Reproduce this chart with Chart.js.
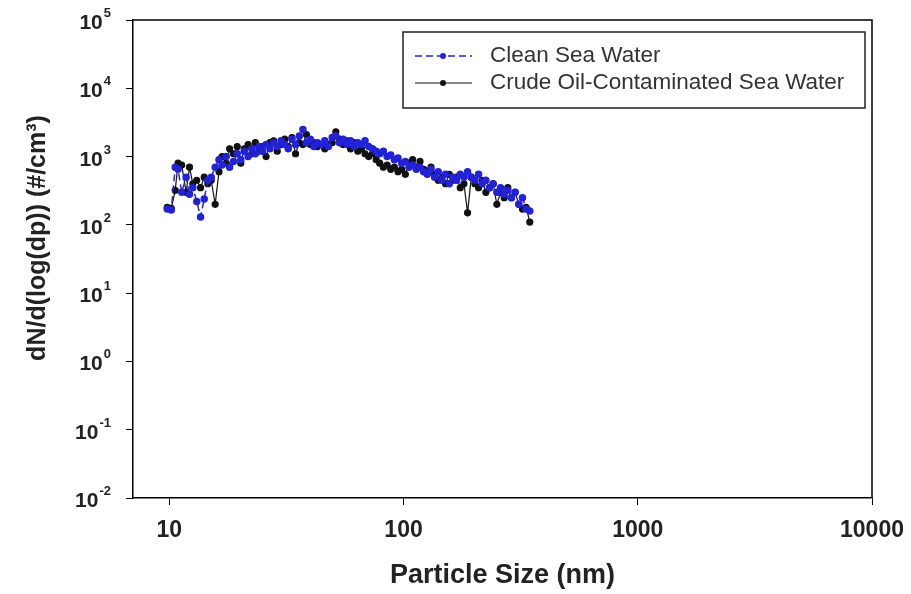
<!DOCTYPE html>
<html>
<head>
<meta charset="utf-8">
<script src="https://cdn.jsdelivr.net/npm/chart.js@4/dist/chart.umd.min.js"></script>
<style>
  html, body { margin: 0; padding: 0; background: #fff; }
  #wrap { width: 911px; height: 594px; }
</style>
</head>
<body>
<div id="wrap"><canvas id="psd-chart" width="911" height="594"></canvas></div>
<script>
// particle size channels (nm)
const sizes = [9.8, 10.2, 10.6, 10.9, 11.3, 11.8, 12.2, 12.6, 13.1, 13.6, 14.1, 14.6, 15.1, 15.7, 16.3, 16.8,
  17.5, 18.1, 18.8, 19.5, 20.2, 20.9, 21.7, 22.5, 23.3, 24.1, 25.0, 25.9, 26.9, 27.9, 28.9, 30.0, 31.1, 32.2,
  33.4, 34.6, 35.9, 37.2, 38.5, 40.0, 41.4, 42.9, 44.5, 46.1, 47.8, 49.6, 51.4, 53.3, 55.2, 57.3, 59.4, 61.5,
  63.8, 66.1, 68.5, 71.0, 73.7, 76.4, 79.1, 82.0, 85.1, 88.2, 91.4, 94.7, 98.2, 101.8, 105.5, 109.4, 113.4,
  117.6, 121.9, 126.3, 131.0, 135.8, 140.7, 145.9, 151.2, 156.8, 162.5, 168.5, 174.7, 181.1, 187.7, 194.6,
  201.7, 209.1, 216.7, 224.7, 232.9, 241.4, 250.3, 259.5, 269.0, 278.8, 289.0, 299.6, 310.6, 322.0, 333.8, 346.0]

// dN/dlog(dp), #/cm3
const clean_sea_water = [170, 165, 700, 650, 300, 500, 280, 350, 220, 130, 240, 450, 500, 700, 900, 750,
  1000, 700, 850, 1100, 900, 1200, 1000, 1300, 1100, 1400, 1200, 1500, 1300, 1600, 1400, 1700, 1500, 1300,
  1800, 1500, 2000, 2500, 1600, 1800, 1400, 1600, 1500, 1700, 1400, 1900, 2000, 1600, 1800, 1500, 1700, 1400,
  1600, 1500, 1700, 1400, 1300, 1200, 1100, 1200, 1000, 1050, 900, 950, 800, 850, 700, 750, 650,
  700, 600, 550, 650, 500, 600, 450, 550, 400, 500, 450, 550, 500, 600, 500,
  450, 550, 400, 450, 350, 400, 300, 350, 280, 320, 250, 300, 200, 250, 170, 160]

const oil_sea_water = [180, 175, 320, 800, 750, 300, 700, 400, 450, 350, 500, 400, 450, 200, 600, 1000,
  800, 1300, 1100, 1400, 800, 1300, 1500, 1100, 1600, 1200, 1400, 1000, 1600, 1700, 1200, 1500, 1800, 1400,
  1900, 1100, 1600, 1500, 2100, 1500, 1600, 1400, 1500, 1300, 1500, 1600, 2300, 1800, 1500, 1700, 1300, 1600,
  1200, 1300, 1100, 1000, 1100, 900, 800, 700, 750, 650, 700, 600, 650, 550, 800, 900, 700,
  850, 650, 600, 700, 550, 450, 500, 400, 550, 450, 500, 350, 400, 150, 500,
  400, 350, 450, 300, 350, 400, 200, 300, 250, 350, 250, 300, 200, 170, 180, 110]

const x_ticks = [10, 100, 1000, 10000]
const y_exponents = [-2, -1, 0, 1, 2, 3, 4, 5]
const y_title = 'dN/d(log(dp)) (#/cm\u00b3)'

const font_family = '"Liberation Sans", Arial, sans-serif'

const frame_and_labels = {
  id: 'frame_and_labels',
  afterDraw(chart) {
    const {ctx, chartArea: area, scales: {y}} = chart
    ctx.save()
    // top and right frame
    ctx.strokeStyle = '#000'
    ctx.lineWidth = 1.5
    ctx.beginPath()
    ctx.moveTo(area.left, area.top)
    ctx.lineTo(area.right, area.top)
    ctx.lineTo(area.right, area.bottom)
    ctx.stroke()

    // y tick labels with superscript exponents
    ctx.fillStyle = '#222'
    ctx.textBaseline = 'alphabetic'
    y_exponents.forEach(exp => {
      const py = y.getPixelForValue(Math.pow(10, exp))
      const sup = String(exp)
      ctx.font = `bold 13px ${font_family}`
      const sup_w = ctx.measureText(sup).width
      ctx.textAlign = 'right'
      ctx.fillText(sup, 111, py - 3)
      ctx.font = `bold 21px ${font_family}`
      ctx.fillText('10', 111 - sup_w - 1, py + 9)
    })

    // y axis title
    ctx.save()
    ctx.translate(38, 238)
    ctx.rotate(-Math.PI / 2)
    ctx.font = `bold 25px ${font_family}`
    ctx.textAlign = 'center'
    ctx.textBaseline = 'middle'
    ctx.fillText(y_title, 0, 0)
    ctx.restore()

    // legend box
    const box = {left: 403, top: 32, right: 865, bottom: 108}
    ctx.strokeStyle = '#222'
    ctx.lineWidth = 1.5
    ctx.strokeRect(box.left, box.top, box.right - box.left, box.bottom - box.top)
    const rows = [56, 83]
    chart.data.datasets.forEach((ds, i) => {
      const ly = rows[i]
      ctx.strokeStyle = ds.borderColor
      ctx.lineWidth = ds.borderWidth
      ctx.setLineDash(ds.borderDash || [])
      ctx.beginPath()
      ctx.moveTo(415, ly)
      ctx.lineTo(472, ly)
      ctx.stroke()
      ctx.setLineDash([])
      ctx.fillStyle = ds.pointBackgroundColor
      ctx.beginPath()
      ctx.arc(443, ly, 3, 0, Math.PI * 2)
      ctx.fill()
      ctx.fillStyle = '#333'
      ctx.font = `22.5px ${font_family}`
      ctx.textAlign = 'left'
      ctx.textBaseline = 'middle'
      ctx.fillText(ds.label, 490, ly)
    })
    ctx.restore()
  }
}

const chart = new Chart(document.getElementById('psd-chart').getContext('2d'), {
  type: 'line',
  data: {
    datasets: [{
      label: 'Clean Sea Water',
      data: sizes.map((s, i) => ({x: s, y: clean_sea_water[i]})),
      borderColor: '#2222d8',
      pointBackgroundColor: '#2222d8',
      pointBorderColor: '#2222d8',
      borderWidth: 1.5,
      borderDash: [7, 4],
      pointRadius: 3,
      tension: 0
    }, {
      label: 'Crude Oil-Contaminated Sea Water',
      data: sizes.map((s, i) => ({x: s, y: oil_sea_water[i]})),
      borderColor: '#111',
      pointBackgroundColor: '#111',
      pointBorderColor: '#111',
      borderWidth: 1.2,
      pointRadius: 3,
      tension: 0
    }]
  },
  options: {
    responsive: false,
    animation: false,
    layout: {
      padding: {left: 0, top: 20, right: 39, bottom: 0}
    },
    plugins: {
      legend: {display: false},
      tooltip: {enabled: false}
    },
    scales: {
      x: {
        type: 'logarithmic',
        min: 7,
        max: 10000,
        afterBuildTicks: scale => { scale.ticks = x_ticks.map(v => ({value: v})) },
        afterFit: scale => {
          scale.height = 96
          scale.paddingLeft = 0
          scale.paddingRight = 0
        },
        ticks: {
          color: '#222',
          padding: 12,
          font: {family: font_family, size: 23, weight: 'bold'},
          callback: v => String(v)
        },
        grid: {display: true, drawOnChartArea: false, drawTicks: true, tickLength: 7, color: '#000'},
        border: {display: true, color: '#000', width: 1.5},
        title: {
          display: true,
          text: 'Particle Size (nm)',
          color: '#222',
          font: {family: font_family, size: 27, weight: 'bold'},
          padding: {top: 0, bottom: 2}
        }
      },
      y: {
        type: 'logarithmic',
        min: 0.01,
        max: 100000,
        afterBuildTicks: scale => { scale.ticks = y_exponents.map(e => ({value: Math.pow(10, e)})) },
        afterFit: scale => { scale.width = 133 },
        ticks: {display: false},
        grid: {display: true, drawOnChartArea: false, drawTicks: true, tickLength: 7, color: '#000'},
        border: {display: true, color: '#000', width: 1.5},
        title: {display: false}
      }
    }
  },
  plugins: [frame_and_labels]
})
</script>
</body>
</html>
